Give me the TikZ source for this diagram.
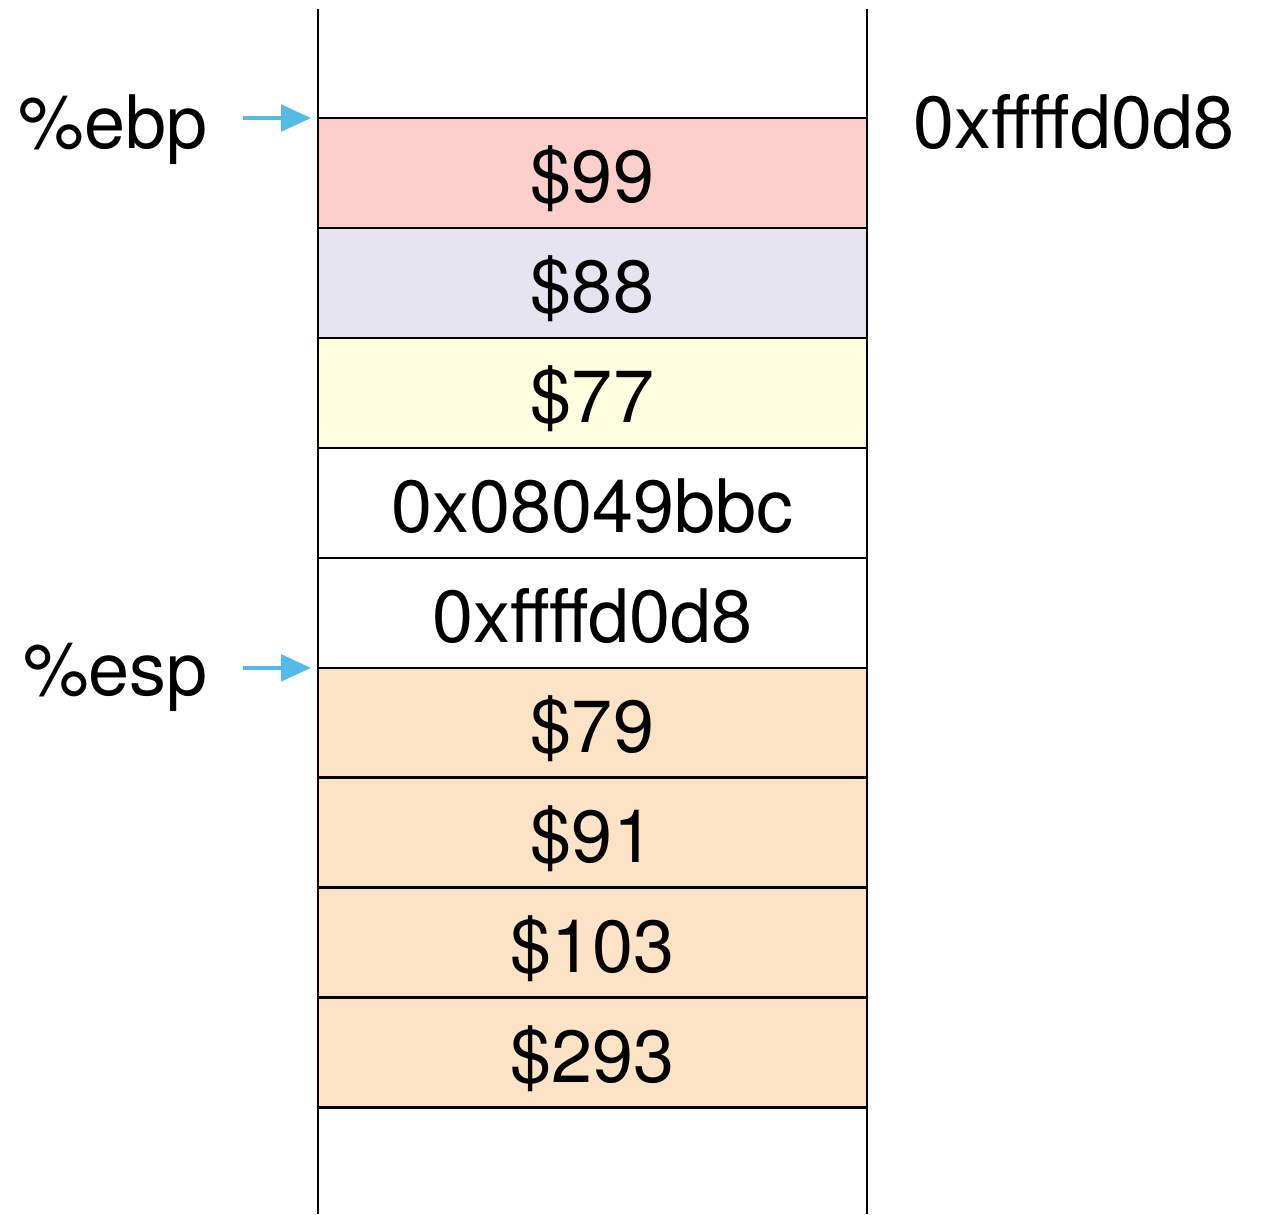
\documentclass[tikz,border=0pt]{standalone}
\usepackage{fontspec}
\setmainfont{TeX Gyre Heros}
\usepackage{tikz}
\usetikzlibrary{arrows.meta,positioning}
\definecolor{pinkcell}{RGB}{252,207,202}
\definecolor{lavcell}{RGB}{230,228,240}
\definecolor{yelcell}{RGB}{255,253,224}
\definecolor{peachcell}{RGB}{253,227,197}
\definecolor{ptrblue}{RGB}{85,187,230}

\begin{document}
\begin{tikzpicture}[x=0.02cm, y=-0.02cm, line width=1.6pt,
    cell/.style={draw=black, rectangle, minimum width=10.98cm, minimum height=2.2cm,
                 inner sep=0pt, outer sep=0pt, text height=38pt, text depth=3.9pt,
                 font=\fontsize{42}{50}\selectfont},
    reglabel/.style={inner sep=0pt, font=\fontsize{42}{50}\selectfont},
    ptr/.style={draw=ptrblue, line width=2.4pt, -{Triangle[length=17pt,width=15pt]}, shorten >=4pt}]
   \useasboundingbox (0,0) rectangle (1271,1214);
   % stack cells, top to bottom
   \node[cell, fill=pinkcell] (c1) at (592.5,173) {\$99};
   \node[cell, fill=lavcell, below=0pt of c1] (c2) {\$88};
   \node[cell, fill=yelcell, below=0pt of c2] (c3) {\$77};
   \node[cell, fill=white, below=0pt of c3] (c4) {0x08049bbc};
   \node[cell, fill=white, below=0pt of c4] (c5) {0xffffd0d8};
   \node[cell, fill=peachcell, below=0pt of c5] (c6) {\$79};
   \node[cell, fill=peachcell, below=0pt of c6] (c7) {\$91};
   \node[cell, fill=peachcell, below=0pt of c7] (c8) {\$103};
   \node[cell, fill=peachcell, below=0pt of c8] (c9) {\$293};
   % side walls of the stack
   \coordinate (top) at (0,9);
   \coordinate (bottom) at (0,1214);
   \draw (c1.north west |- top) -- (c1.north west |- bottom);
   \draw (c1.north east |- top) -- (c1.north east |- bottom);
   % registers
   \node[reglabel, anchor=base east] (ebp) at (209,148) {\%ebp};
   \node[reglabel, anchor=base east] (esp) at (209,695) {\%esp};
   \node[reglabel, anchor=base west] (addr) at (912,148) {0xffffd0d8};
   \coordinate[left=1.5cm of c1.north west] (ebptail);
   \coordinate[left=1.5cm of c6.north west] (esptail);
   \draw[ptr] (ebptail) -- (c1.north west);
   \draw[ptr] (esptail) -- (c6.north west);
\end{tikzpicture}
\end{document}
